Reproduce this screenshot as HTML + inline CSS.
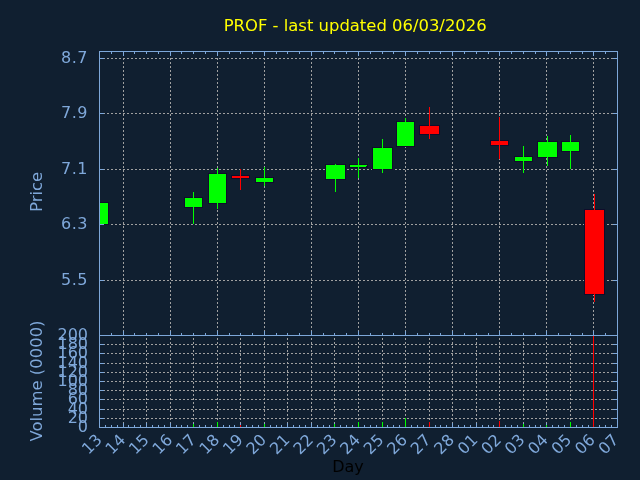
<!DOCTYPE html>
<html><head><meta charset="utf-8"><title>PROF</title>
<style>html,body{margin:0;padding:0;background:#101f30;}body{width:640px;height:480px;overflow:hidden;}svg{display:block;}text{font-family:"DejaVu Sans","Liberation Sans",sans-serif;font-size:16px;}</style></head><body>
<svg width="640" height="480" viewBox="0 0 640 480">
<rect width="640" height="480" fill="#101f30"/>
<g stroke="#a0a0a0" stroke-width="1" stroke-dasharray="2 2" fill="none" shape-rendering="crispEdges">
<line x1="99" y1="58.5" x2="617" y2="58.5"/>
<line x1="99" y1="113.5" x2="617" y2="113.5"/>
<line x1="99" y1="169.5" x2="617" y2="169.5"/>
<line x1="99" y1="224.5" x2="617" y2="224.5"/>
<line x1="99" y1="280.5" x2="617" y2="280.5"/>
<line x1="123.5" y1="336" x2="123.5" y2="51"/>
<line x1="170.5" y1="336" x2="170.5" y2="51"/>
<line x1="217.5" y1="336" x2="217.5" y2="51"/>
<line x1="264.5" y1="336" x2="264.5" y2="51"/>
<line x1="311.5" y1="336" x2="311.5" y2="51"/>
<line x1="358.5" y1="336" x2="358.5" y2="51"/>
<line x1="405.5" y1="336" x2="405.5" y2="51"/>
<line x1="452.5" y1="336" x2="452.5" y2="51"/>
<line x1="499.5" y1="336" x2="499.5" y2="51"/>
<line x1="546.5" y1="336" x2="546.5" y2="51"/>
<line x1="593.5" y1="336" x2="593.5" y2="51"/>
<line x1="99" y1="344.5" x2="617" y2="344.5"/>
<line x1="99" y1="353.5" x2="617" y2="353.5"/>
<line x1="99" y1="363.5" x2="617" y2="363.5"/>
<line x1="99" y1="372.5" x2="617" y2="372.5"/>
<line x1="99" y1="381.5" x2="617" y2="381.5"/>
<line x1="99" y1="390.5" x2="617" y2="390.5"/>
<line x1="99" y1="399.5" x2="617" y2="399.5"/>
<line x1="99" y1="409.5" x2="617" y2="409.5"/>
<line x1="99" y1="418.5" x2="617" y2="418.5"/>
<line x1="123.5" y1="428" x2="123.5" y2="335"/>
<line x1="146.5" y1="428" x2="146.5" y2="335"/>
<line x1="170.5" y1="428" x2="170.5" y2="335"/>
<line x1="193.5" y1="428" x2="193.5" y2="335"/>
<line x1="217.5" y1="428" x2="217.5" y2="335"/>
<line x1="240.5" y1="428" x2="240.5" y2="335"/>
<line x1="264.5" y1="428" x2="264.5" y2="335"/>
<line x1="287.5" y1="428" x2="287.5" y2="335"/>
<line x1="311.5" y1="428" x2="311.5" y2="335"/>
<line x1="334.5" y1="428" x2="334.5" y2="335"/>
<line x1="358.5" y1="428" x2="358.5" y2="335"/>
<line x1="382.5" y1="428" x2="382.5" y2="335"/>
<line x1="405.5" y1="428" x2="405.5" y2="335"/>
<line x1="429.5" y1="428" x2="429.5" y2="335"/>
<line x1="452.5" y1="428" x2="452.5" y2="335"/>
<line x1="476.5" y1="428" x2="476.5" y2="335"/>
<line x1="499.5" y1="428" x2="499.5" y2="335"/>
<line x1="523.5" y1="428" x2="523.5" y2="335"/>
<line x1="546.5" y1="428" x2="546.5" y2="335"/>
<line x1="570.5" y1="428" x2="570.5" y2="335"/>
<line x1="593.5" y1="428" x2="593.5" y2="335"/>
</g>
<g shape-rendering="crispEdges">
<rect x="100" y="202" width="9" height="23" fill="#100c2b"/>
<rect x="100" y="203" width="8" height="21" fill="#00ff00"/>
<rect x="184" y="197" width="19" height="11" fill="#100c2b"/>
<rect x="193" y="192" width="1" height="32" fill="#00ff00"/>
<rect x="185" y="198" width="17" height="9" fill="#00ff00"/>
<rect x="208" y="173" width="19" height="31" fill="#100c2b"/>
<rect x="217" y="168" width="1" height="41" fill="#00ff00"/>
<rect x="209" y="174" width="17" height="29" fill="#00ff00"/>
<rect x="231" y="175" width="19" height="4" fill="#100c2b"/>
<rect x="240" y="169" width="1" height="21" fill="#ff0000"/>
<rect x="232" y="176" width="17" height="2" fill="#ff0000"/>
<rect x="255" y="177" width="19" height="6" fill="#100c2b"/>
<rect x="264" y="167" width="1" height="19" fill="#00ff00"/>
<rect x="256" y="178" width="17" height="4" fill="#00ff00"/>
<rect x="325" y="164" width="21" height="16" fill="#100c2b"/>
<rect x="335" y="164" width="1" height="28" fill="#00ff00"/>
<rect x="326" y="165" width="19" height="14" fill="#00ff00"/>
<rect x="349" y="164" width="19" height="4" fill="#100c2b"/>
<rect x="358" y="158" width="1" height="20" fill="#00ff00"/>
<rect x="350" y="165" width="17" height="2" fill="#00ff00"/>
<rect x="372" y="147" width="21" height="23" fill="#100c2b"/>
<rect x="382" y="139" width="1" height="34" fill="#00ff00"/>
<rect x="373" y="148" width="19" height="21" fill="#00ff00"/>
<rect x="396" y="121" width="19" height="26" fill="#100c2b"/>
<rect x="405" y="118" width="1" height="28" fill="#00ff00"/>
<rect x="397" y="122" width="17" height="24" fill="#00ff00"/>
<rect x="419" y="125" width="21" height="10" fill="#100c2b"/>
<rect x="429" y="107" width="1" height="32" fill="#ff0000"/>
<rect x="420" y="126" width="19" height="8" fill="#ff0000"/>
<rect x="490" y="140" width="19" height="6" fill="#100c2b"/>
<rect x="499" y="117" width="1" height="42" fill="#ff0000"/>
<rect x="491" y="141" width="17" height="4" fill="#ff0000"/>
<rect x="514" y="156" width="19" height="6" fill="#100c2b"/>
<rect x="523" y="146" width="1" height="27" fill="#00ff00"/>
<rect x="515" y="157" width="17" height="4" fill="#00ff00"/>
<rect x="537" y="141" width="21" height="17" fill="#100c2b"/>
<rect x="547" y="136" width="1" height="30" fill="#00ff00"/>
<rect x="538" y="142" width="19" height="15" fill="#00ff00"/>
<rect x="561" y="141" width="19" height="11" fill="#100c2b"/>
<rect x="570" y="135" width="1" height="34" fill="#00ff00"/>
<rect x="562" y="142" width="17" height="9" fill="#00ff00"/>
<rect x="584" y="209" width="21" height="86" fill="#100c2b"/>
<rect x="594" y="194" width="1" height="108" fill="#ff0000"/>
<rect x="585" y="210" width="19" height="84" fill="#ff0000"/>
<rect x="366" y="166" width="1" height="1" fill="#100c2b"/>
</g>
<g stroke="#7da7d9" stroke-width="1" fill="none" shape-rendering="crispEdges">
<rect x="99.5" y="51.5" width="518" height="284"/>
<rect x="99.5" y="335.5" width="518" height="92"/>
<line x1="111.5" y1="52" x2="111.5" y2="54"/>
<line x1="111.5" y1="335" x2="111.5" y2="333"/>
<line x1="123.5" y1="52" x2="123.5" y2="56"/>
<line x1="123.5" y1="335" x2="123.5" y2="331"/>
<line x1="134.5" y1="52" x2="134.5" y2="54"/>
<line x1="134.5" y1="335" x2="134.5" y2="333"/>
<line x1="146.5" y1="52" x2="146.5" y2="54"/>
<line x1="146.5" y1="335" x2="146.5" y2="333"/>
<line x1="158.5" y1="52" x2="158.5" y2="54"/>
<line x1="158.5" y1="335" x2="158.5" y2="333"/>
<line x1="170.5" y1="52" x2="170.5" y2="56"/>
<line x1="170.5" y1="335" x2="170.5" y2="331"/>
<line x1="181.5" y1="52" x2="181.5" y2="54"/>
<line x1="181.5" y1="335" x2="181.5" y2="333"/>
<line x1="193.5" y1="52" x2="193.5" y2="54"/>
<line x1="193.5" y1="335" x2="193.5" y2="333"/>
<line x1="205.5" y1="52" x2="205.5" y2="54"/>
<line x1="205.5" y1="335" x2="205.5" y2="333"/>
<line x1="217.5" y1="52" x2="217.5" y2="56"/>
<line x1="217.5" y1="335" x2="217.5" y2="331"/>
<line x1="229.5" y1="52" x2="229.5" y2="54"/>
<line x1="229.5" y1="335" x2="229.5" y2="333"/>
<line x1="240.5" y1="52" x2="240.5" y2="54"/>
<line x1="240.5" y1="335" x2="240.5" y2="333"/>
<line x1="252.5" y1="52" x2="252.5" y2="54"/>
<line x1="252.5" y1="335" x2="252.5" y2="333"/>
<line x1="264.5" y1="52" x2="264.5" y2="56"/>
<line x1="264.5" y1="335" x2="264.5" y2="331"/>
<line x1="276.5" y1="52" x2="276.5" y2="54"/>
<line x1="276.5" y1="335" x2="276.5" y2="333"/>
<line x1="287.5" y1="52" x2="287.5" y2="54"/>
<line x1="287.5" y1="335" x2="287.5" y2="333"/>
<line x1="299.5" y1="52" x2="299.5" y2="54"/>
<line x1="299.5" y1="335" x2="299.5" y2="333"/>
<line x1="311.5" y1="52" x2="311.5" y2="56"/>
<line x1="311.5" y1="335" x2="311.5" y2="331"/>
<line x1="323.5" y1="52" x2="323.5" y2="54"/>
<line x1="323.5" y1="335" x2="323.5" y2="333"/>
<line x1="334.5" y1="52" x2="334.5" y2="54"/>
<line x1="334.5" y1="335" x2="334.5" y2="333"/>
<line x1="346.5" y1="52" x2="346.5" y2="54"/>
<line x1="346.5" y1="335" x2="346.5" y2="333"/>
<line x1="358.5" y1="52" x2="358.5" y2="56"/>
<line x1="358.5" y1="335" x2="358.5" y2="331"/>
<line x1="370.5" y1="52" x2="370.5" y2="54"/>
<line x1="370.5" y1="335" x2="370.5" y2="333"/>
<line x1="382.5" y1="52" x2="382.5" y2="54"/>
<line x1="382.5" y1="335" x2="382.5" y2="333"/>
<line x1="393.5" y1="52" x2="393.5" y2="54"/>
<line x1="393.5" y1="335" x2="393.5" y2="333"/>
<line x1="405.5" y1="52" x2="405.5" y2="56"/>
<line x1="405.5" y1="335" x2="405.5" y2="331"/>
<line x1="417.5" y1="52" x2="417.5" y2="54"/>
<line x1="417.5" y1="335" x2="417.5" y2="333"/>
<line x1="429.5" y1="52" x2="429.5" y2="54"/>
<line x1="429.5" y1="335" x2="429.5" y2="333"/>
<line x1="440.5" y1="52" x2="440.5" y2="54"/>
<line x1="440.5" y1="335" x2="440.5" y2="333"/>
<line x1="452.5" y1="52" x2="452.5" y2="56"/>
<line x1="452.5" y1="335" x2="452.5" y2="331"/>
<line x1="464.5" y1="52" x2="464.5" y2="54"/>
<line x1="464.5" y1="335" x2="464.5" y2="333"/>
<line x1="476.5" y1="52" x2="476.5" y2="54"/>
<line x1="476.5" y1="335" x2="476.5" y2="333"/>
<line x1="488.5" y1="52" x2="488.5" y2="54"/>
<line x1="488.5" y1="335" x2="488.5" y2="333"/>
<line x1="499.5" y1="52" x2="499.5" y2="56"/>
<line x1="499.5" y1="335" x2="499.5" y2="331"/>
<line x1="511.5" y1="52" x2="511.5" y2="54"/>
<line x1="511.5" y1="335" x2="511.5" y2="333"/>
<line x1="523.5" y1="52" x2="523.5" y2="54"/>
<line x1="523.5" y1="335" x2="523.5" y2="333"/>
<line x1="535.5" y1="52" x2="535.5" y2="54"/>
<line x1="535.5" y1="335" x2="535.5" y2="333"/>
<line x1="546.5" y1="52" x2="546.5" y2="56"/>
<line x1="546.5" y1="335" x2="546.5" y2="331"/>
<line x1="558.5" y1="52" x2="558.5" y2="54"/>
<line x1="558.5" y1="335" x2="558.5" y2="333"/>
<line x1="570.5" y1="52" x2="570.5" y2="54"/>
<line x1="570.5" y1="335" x2="570.5" y2="333"/>
<line x1="582.5" y1="52" x2="582.5" y2="54"/>
<line x1="582.5" y1="335" x2="582.5" y2="333"/>
<line x1="593.5" y1="52" x2="593.5" y2="56"/>
<line x1="593.5" y1="335" x2="593.5" y2="331"/>
<line x1="605.5" y1="52" x2="605.5" y2="54"/>
<line x1="605.5" y1="335" x2="605.5" y2="333"/>
<line x1="105.5" y1="427" x2="105.5" y2="425"/>
<line x1="111.5" y1="427" x2="111.5" y2="425"/>
<line x1="117.5" y1="427" x2="117.5" y2="425"/>
<line x1="123.5" y1="427" x2="123.5" y2="423"/>
<line x1="128.5" y1="427" x2="128.5" y2="425"/>
<line x1="134.5" y1="427" x2="134.5" y2="425"/>
<line x1="140.5" y1="427" x2="140.5" y2="425"/>
<line x1="146.5" y1="427" x2="146.5" y2="423"/>
<line x1="152.5" y1="427" x2="152.5" y2="425"/>
<line x1="158.5" y1="427" x2="158.5" y2="425"/>
<line x1="164.5" y1="427" x2="164.5" y2="425"/>
<line x1="170.5" y1="427" x2="170.5" y2="423"/>
<line x1="176.5" y1="427" x2="176.5" y2="425"/>
<line x1="181.5" y1="427" x2="181.5" y2="425"/>
<line x1="187.5" y1="427" x2="187.5" y2="425"/>
<line x1="193.5" y1="427" x2="193.5" y2="423"/>
<line x1="199.5" y1="427" x2="199.5" y2="425"/>
<line x1="205.5" y1="427" x2="205.5" y2="425"/>
<line x1="211.5" y1="427" x2="211.5" y2="425"/>
<line x1="217.5" y1="427" x2="217.5" y2="423"/>
<line x1="223.5" y1="427" x2="223.5" y2="425"/>
<line x1="229.5" y1="427" x2="229.5" y2="425"/>
<line x1="234.5" y1="427" x2="234.5" y2="425"/>
<line x1="240.5" y1="427" x2="240.5" y2="423"/>
<line x1="246.5" y1="427" x2="246.5" y2="425"/>
<line x1="252.5" y1="427" x2="252.5" y2="425"/>
<line x1="258.5" y1="427" x2="258.5" y2="425"/>
<line x1="264.5" y1="427" x2="264.5" y2="423"/>
<line x1="270.5" y1="427" x2="270.5" y2="425"/>
<line x1="276.5" y1="427" x2="276.5" y2="425"/>
<line x1="281.5" y1="427" x2="281.5" y2="425"/>
<line x1="287.5" y1="427" x2="287.5" y2="423"/>
<line x1="293.5" y1="427" x2="293.5" y2="425"/>
<line x1="299.5" y1="427" x2="299.5" y2="425"/>
<line x1="305.5" y1="427" x2="305.5" y2="425"/>
<line x1="311.5" y1="427" x2="311.5" y2="423"/>
<line x1="317.5" y1="427" x2="317.5" y2="425"/>
<line x1="323.5" y1="427" x2="323.5" y2="425"/>
<line x1="329.5" y1="427" x2="329.5" y2="425"/>
<line x1="334.5" y1="427" x2="334.5" y2="423"/>
<line x1="340.5" y1="427" x2="340.5" y2="425"/>
<line x1="346.5" y1="427" x2="346.5" y2="425"/>
<line x1="352.5" y1="427" x2="352.5" y2="425"/>
<line x1="358.5" y1="427" x2="358.5" y2="423"/>
<line x1="364.5" y1="427" x2="364.5" y2="425"/>
<line x1="370.5" y1="427" x2="370.5" y2="425"/>
<line x1="376.5" y1="427" x2="376.5" y2="425"/>
<line x1="382.5" y1="427" x2="382.5" y2="423"/>
<line x1="387.5" y1="427" x2="387.5" y2="425"/>
<line x1="393.5" y1="427" x2="393.5" y2="425"/>
<line x1="399.5" y1="427" x2="399.5" y2="425"/>
<line x1="405.5" y1="427" x2="405.5" y2="423"/>
<line x1="411.5" y1="427" x2="411.5" y2="425"/>
<line x1="417.5" y1="427" x2="417.5" y2="425"/>
<line x1="423.5" y1="427" x2="423.5" y2="425"/>
<line x1="429.5" y1="427" x2="429.5" y2="423"/>
<line x1="435.5" y1="427" x2="435.5" y2="425"/>
<line x1="440.5" y1="427" x2="440.5" y2="425"/>
<line x1="446.5" y1="427" x2="446.5" y2="425"/>
<line x1="452.5" y1="427" x2="452.5" y2="423"/>
<line x1="458.5" y1="427" x2="458.5" y2="425"/>
<line x1="464.5" y1="427" x2="464.5" y2="425"/>
<line x1="470.5" y1="427" x2="470.5" y2="425"/>
<line x1="476.5" y1="427" x2="476.5" y2="423"/>
<line x1="482.5" y1="427" x2="482.5" y2="425"/>
<line x1="488.5" y1="427" x2="488.5" y2="425"/>
<line x1="493.5" y1="427" x2="493.5" y2="425"/>
<line x1="499.5" y1="427" x2="499.5" y2="423"/>
<line x1="505.5" y1="427" x2="505.5" y2="425"/>
<line x1="511.5" y1="427" x2="511.5" y2="425"/>
<line x1="517.5" y1="427" x2="517.5" y2="425"/>
<line x1="523.5" y1="427" x2="523.5" y2="423"/>
<line x1="529.5" y1="427" x2="529.5" y2="425"/>
<line x1="535.5" y1="427" x2="535.5" y2="425"/>
<line x1="540.5" y1="427" x2="540.5" y2="425"/>
<line x1="546.5" y1="427" x2="546.5" y2="423"/>
<line x1="552.5" y1="427" x2="552.5" y2="425"/>
<line x1="558.5" y1="427" x2="558.5" y2="425"/>
<line x1="564.5" y1="427" x2="564.5" y2="425"/>
<line x1="570.5" y1="427" x2="570.5" y2="423"/>
<line x1="576.5" y1="427" x2="576.5" y2="425"/>
<line x1="582.5" y1="427" x2="582.5" y2="425"/>
<line x1="588.5" y1="427" x2="588.5" y2="425"/>
<line x1="593.5" y1="427" x2="593.5" y2="423"/>
<line x1="599.5" y1="427" x2="599.5" y2="425"/>
<line x1="605.5" y1="427" x2="605.5" y2="425"/>
<line x1="611.5" y1="427" x2="611.5" y2="425"/>
<line x1="100" y1="58.5" x2="104" y2="58.5"/>
<line x1="617" y1="58.5" x2="613" y2="58.5"/>
<line x1="100" y1="113.5" x2="104" y2="113.5"/>
<line x1="617" y1="113.5" x2="613" y2="113.5"/>
<line x1="100" y1="169.5" x2="104" y2="169.5"/>
<line x1="617" y1="169.5" x2="613" y2="169.5"/>
<line x1="100" y1="224.5" x2="104" y2="224.5"/>
<line x1="617" y1="224.5" x2="613" y2="224.5"/>
<line x1="100" y1="280.5" x2="104" y2="280.5"/>
<line x1="617" y1="280.5" x2="613" y2="280.5"/>
<line x1="100" y1="344.5" x2="104" y2="344.5"/>
<line x1="617" y1="344.5" x2="613" y2="344.5"/>
<line x1="100" y1="353.5" x2="104" y2="353.5"/>
<line x1="617" y1="353.5" x2="613" y2="353.5"/>
<line x1="100" y1="363.5" x2="104" y2="363.5"/>
<line x1="617" y1="363.5" x2="613" y2="363.5"/>
<line x1="100" y1="372.5" x2="104" y2="372.5"/>
<line x1="617" y1="372.5" x2="613" y2="372.5"/>
<line x1="100" y1="381.5" x2="104" y2="381.5"/>
<line x1="617" y1="381.5" x2="613" y2="381.5"/>
<line x1="100" y1="390.5" x2="104" y2="390.5"/>
<line x1="617" y1="390.5" x2="613" y2="390.5"/>
<line x1="100" y1="399.5" x2="104" y2="399.5"/>
<line x1="617" y1="399.5" x2="613" y2="399.5"/>
<line x1="100" y1="409.5" x2="104" y2="409.5"/>
<line x1="617" y1="409.5" x2="613" y2="409.5"/>
<line x1="100" y1="418.5" x2="104" y2="418.5"/>
<line x1="617" y1="418.5" x2="613" y2="418.5"/>
</g>
<g shape-rendering="crispEdges">
<rect x="193" y="424" width="1" height="3" fill="#00ff00"/>
<rect x="217" y="422" width="1" height="5" fill="#00ff00"/>
<rect x="240" y="425" width="1" height="2" fill="#ff0000"/>
<rect x="264" y="424" width="1" height="3" fill="#00ff00"/>
<rect x="334" y="424" width="1" height="3" fill="#00ff00"/>
<rect x="358" y="422" width="1" height="5" fill="#00ff00"/>
<rect x="382" y="422" width="1" height="5" fill="#00ff00"/>
<rect x="405" y="418" width="1" height="9" fill="#00ff00"/>
<rect x="429" y="422" width="1" height="5" fill="#ff0000"/>
<rect x="499" y="421" width="1" height="6" fill="#ff0000"/>
<rect x="523" y="424" width="1" height="3" fill="#00ff00"/>
<rect x="546" y="425" width="1" height="2" fill="#00ff00"/>
<rect x="570" y="422" width="1" height="5" fill="#00ff00"/>
<rect x="593" y="336" width="1" height="91" fill="#ff0000"/>
</g>
<text x="223.7" y="31" textLength="263" lengthAdjust="spacingAndGlyphs" fill="#ffff00">PROF - last updated 06/03/2026</text>
<g fill="#7fa8da">
<text x="60.95" y="63.3" textLength="26.55">8.7</text>
<text x="60.95" y="118.3" textLength="26.55">7.9</text>
<text x="60.95" y="174.3" textLength="26.55">7.1</text>
<text x="60.95" y="229.3" textLength="26.55">6.3</text>
<text x="60.95" y="285.3" textLength="26.55">5.5</text>
<text x="88" y="340.3" text-anchor="end">200</text>
<text x="88" y="349.3" text-anchor="end">180</text>
<text x="88" y="358.3" text-anchor="end">160</text>
<text x="88" y="368.3" text-anchor="end">140</text>
<text x="88" y="377.3" text-anchor="end">120</text>
<text x="88" y="386.3" text-anchor="end">100</text>
<text x="88" y="395.3" text-anchor="end">80</text>
<text x="88" y="404.3" text-anchor="end">60</text>
<text x="88" y="414.3" text-anchor="end">40</text>
<text x="88" y="423.3" text-anchor="end">20</text>
<text x="88" y="432.3" text-anchor="end">0</text>
<text transform="translate(103.0 440.8) rotate(-45)" text-anchor="end">13</text>
<text transform="translate(126.5 440.8) rotate(-45)" text-anchor="end">14</text>
<text transform="translate(150.0 440.8) rotate(-45)" text-anchor="end">15</text>
<text transform="translate(173.4 440.8) rotate(-45)" text-anchor="end">16</text>
<text transform="translate(196.9 440.8) rotate(-45)" text-anchor="end">17</text>
<text transform="translate(220.4 440.8) rotate(-45)" text-anchor="end">18</text>
<text transform="translate(243.9 440.8) rotate(-45)" text-anchor="end">19</text>
<text transform="translate(267.3 440.8) rotate(-45)" text-anchor="end">20</text>
<text transform="translate(290.8 440.8) rotate(-45)" text-anchor="end">21</text>
<text transform="translate(314.3 440.8) rotate(-45)" text-anchor="end">22</text>
<text transform="translate(337.8 440.8) rotate(-45)" text-anchor="end">23</text>
<text transform="translate(361.2 440.8) rotate(-45)" text-anchor="end">24</text>
<text transform="translate(384.7 440.8) rotate(-45)" text-anchor="end">25</text>
<text transform="translate(408.2 440.8) rotate(-45)" text-anchor="end">26</text>
<text transform="translate(431.7 440.8) rotate(-45)" text-anchor="end">27</text>
<text transform="translate(455.1 440.8) rotate(-45)" text-anchor="end">28</text>
<text transform="translate(478.6 440.8) rotate(-45)" text-anchor="end">01</text>
<text transform="translate(502.1 440.8) rotate(-45)" text-anchor="end">02</text>
<text transform="translate(525.6 440.8) rotate(-45)" text-anchor="end">03</text>
<text transform="translate(549.0 440.8) rotate(-45)" text-anchor="end">04</text>
<text transform="translate(572.5 440.8) rotate(-45)" text-anchor="end">05</text>
<text transform="translate(596.0 440.8) rotate(-45)" text-anchor="end">06</text>
<text transform="translate(619.5 440.8) rotate(-45)" text-anchor="end">07</text>
<text transform="translate(42 191.9) rotate(-90)" x="-20.1" textLength="40.2" lengthAdjust="spacingAndGlyphs">Price</text>
<text transform="translate(42 381) rotate(-90)" x="-60.5" textLength="121" lengthAdjust="spacingAndGlyphs">Volume (0000)</text>
</g>
<text x="348" y="471.5" text-anchor="middle" fill="#000000">Day</text>
</svg></body></html>
